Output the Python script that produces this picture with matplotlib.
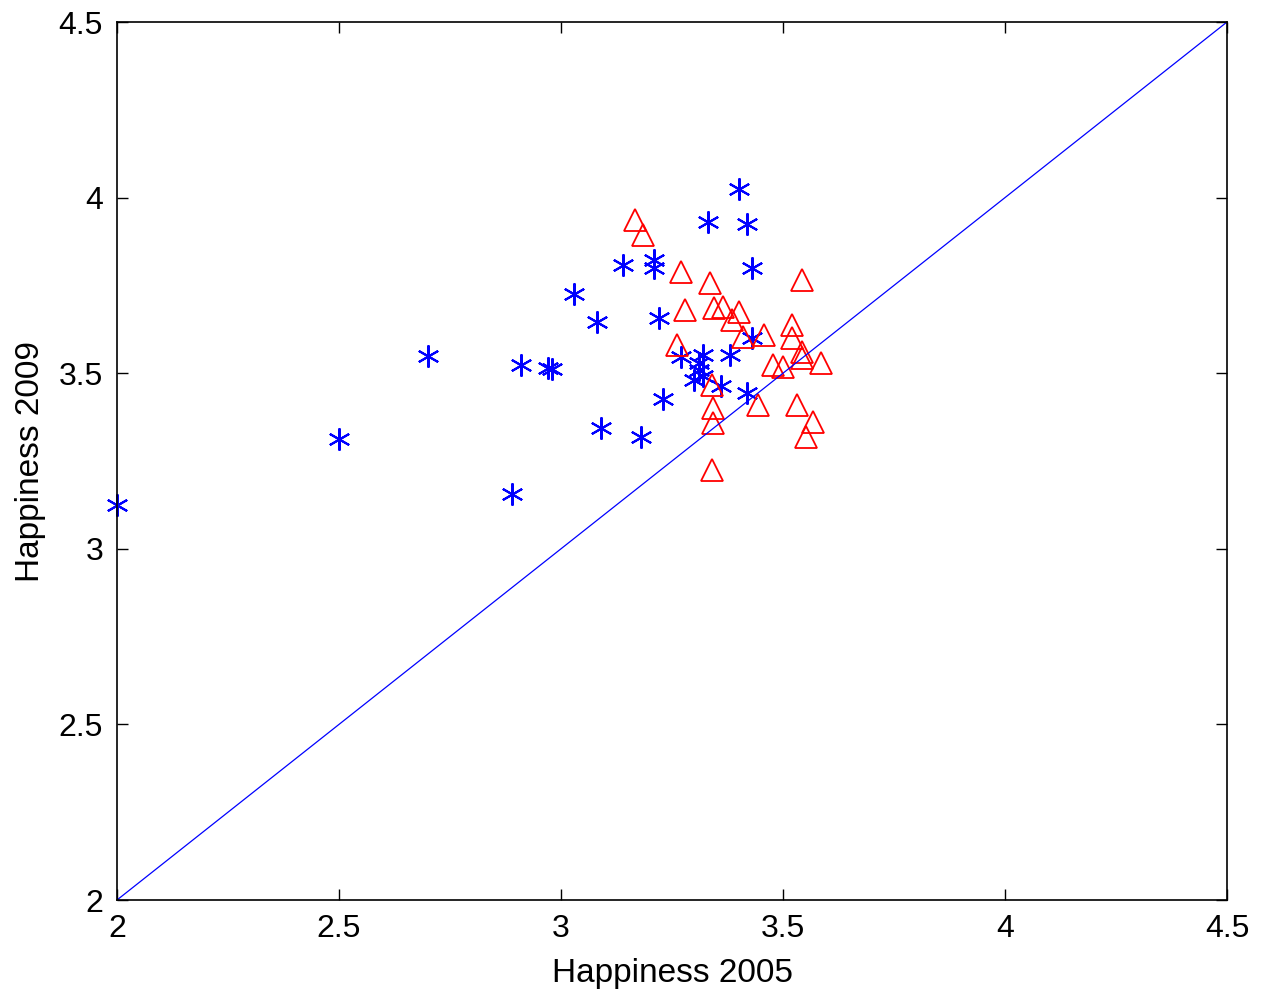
import matplotlib
matplotlib.use("Agg")
import matplotlib.pyplot as plt

plt.rcParams['font.family'] = ['Liberation Sans', 'DejaVu Sans']

# blue asterisks
blue_x = [2.00, 2.50, 2.70, 2.89, 2.91, 2.97, 2.98, 3.03, 3.08, 3.09,
          3.14, 3.18, 3.21, 3.21, 3.22, 3.23, 3.33, 3.40, 3.42, 3.43,
          3.43, 3.42, 3.38, 3.27, 3.32, 3.31, 3.31, 3.32, 3.30, 3.36]
blue_y = [3.125, 3.313, 3.549, 3.156, 3.523, 3.515, 3.512, 3.725, 3.646, 3.344,
          3.808, 3.318, 3.822, 3.799, 3.657, 3.427, 3.931, 4.024, 3.925, 3.800,
          3.600, 3.444, 3.552, 3.546, 3.552, 3.529, 3.509, 3.492, 3.481, 3.464]

# red triangles
red_x = [3.167, 3.185, 3.270, 3.336, 3.279, 3.345, 3.365, 3.401, 3.386, 3.410,
         3.457, 3.261, 3.543, 3.520, 3.520, 3.543, 3.543, 3.477, 3.500, 3.586,
         3.340, 3.342, 3.342, 3.444, 3.532, 3.568, 3.552, 3.340]
red_y = [3.936, 3.894, 3.789, 3.757, 3.680, 3.686, 3.688, 3.674, 3.651, 3.603,
         3.609, 3.580, 3.765, 3.637, 3.600, 3.560, 3.543, 3.523, 3.518, 3.529,
         3.466, 3.401, 3.358, 3.409, 3.409, 3.361, 3.318, 3.224]

ref_line = [2, 4.5]

fig = plt.figure(figsize=(12.66, 9.94), dpi=100)
ax = fig.add_axes([117/1266, 94/994, 1110/1266, 878/994])

ax.plot(blue_x, blue_y, linestyle='none', marker=(6, 2, 0), markersize=16,
        markeredgecolor='#0000ff', markeredgewidth=1.5, clip_on=False)
ax.plot(red_x, red_y, linestyle='none', marker='^', markersize=16,
        markerfacecolor='none', markeredgecolor='#ff0000', markeredgewidth=1.3,
        clip_on=False)
ax.plot(ref_line, ref_line, color='#0000ff', linewidth=0.9)

ax.set_xlim(2, 4.5)
ax.set_ylim(2, 4.5)
ax.set_xticks([2, 2.5, 3, 3.5, 4, 4.5])
ax.set_yticks([2, 2.5, 3, 3.5, 4, 4.5])
ax.set_xticklabels(['2', '2.5', '3', '3.5', '4', '4.5'])
ax.set_yticklabels(['2', '2.5', '3', '3.5', '4', '4.5'])
ax.tick_params(direction='in', length=8, width=1, labelsize=23,
               top=True, right=True, pad=10)
for s in ax.spines.values():
    s.set_linewidth(1.2)

ax.set_xlabel('Happiness 2005', fontsize=24, labelpad=10)
ax.set_ylabel('Happiness 2009', fontsize=24, labelpad=9)

fig.savefig('out.png', dpi=100)
